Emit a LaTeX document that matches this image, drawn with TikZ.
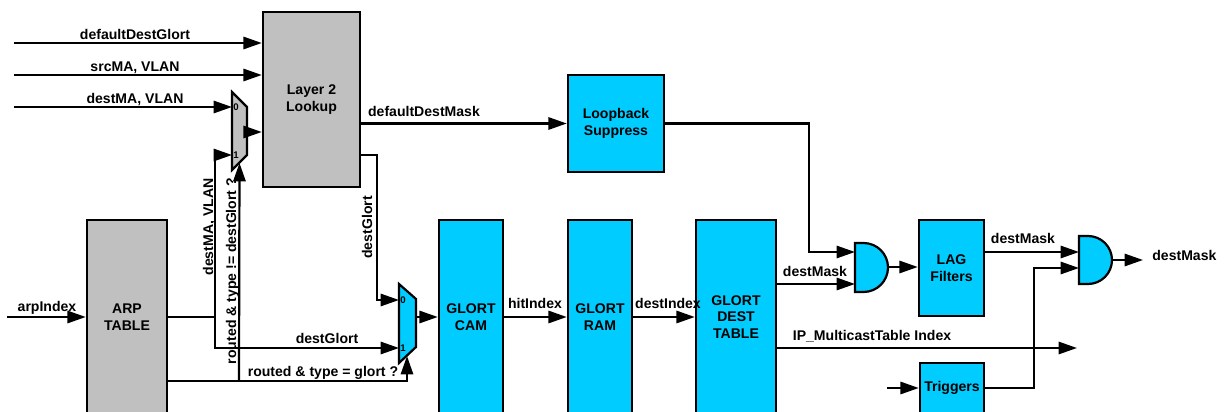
\documentclass[tikz,border=0pt]{standalone}
\usepackage{fontspec}
\setmainfont{Liberation Sans}
\usetikzlibrary{arrows.meta,calc}
\newdimen\pxu \pxu=0.02cm
\definecolor{blkgray}{RGB}{192,192,192}
\definecolor{blkcyan}{RGB}{0,204,255}
\tikzset{
  every picture/.style={x=0.02cm, y=-0.02cm, font=\bfseries\fontsize{8}{9.6}\selectfont,
    >={Triangle[length=10.5pt,width=7pt]}},
  wire/.style={line width=1.25pt},
  sig/.style={wire, ->},
  blk/.style={draw, line width=1.4pt, align=center, inner sep=0pt},
  grayblk/.style={blk, fill=blkgray},
  cyanblk/.style={blk, fill=blkcyan},
  lbl/.style={anchor=base, inner sep=0pt},
  vlbl/.style={lbl, rotate=90},
  port/.style={anchor=west, inner sep=0.6pt, font=\bfseries\fontsize{5.5}{6}\selectfont},
}

\begin{document}
\begin{tikzpicture}
\useasboundingbox (0,0) rectangle (1225,412);
\clip (0,0) rectangle (1225,412);
% blocks
\node[grayblk, minimum width=97\pxu, minimum height=175\pxu] (L2) at (311.5,99.5) {Layer 2\\Lookup};
\node[cyanblk, minimum width=96\pxu, minimum height=97\pxu] (LB) at (616,123.5) {Loopback\\Suppress};
\node[grayblk, minimum width=80\pxu, minimum height=194\pxu] (ARP) at (127,317) {ARP\\TABLE};
\node[cyanblk, minimum width=64\pxu, minimum height=194\pxu] (CAM) at (471,317) {GLORT\\CAM};
\node[cyanblk, minimum width=64\pxu, minimum height=194\pxu] (RAM) at (600,317) {GLORT\\RAM};
\node[cyanblk, minimum width=80\pxu, minimum height=194\pxu] (DT) at (736,317) {GLORT\\DEST\\TABLE};
\node[cyanblk, minimum width=65\pxu, minimum height=96\pxu] (LAG) at (951.5,268) {LAG\\Filters};
\node[cyanblk, minimum width=64\pxu, minimum height=50\pxu] (TR) at (952,388) {Triggers};

% muxes
\draw[wire, fill=blkgray] (232,92) -- (247,107) -- (247,155) -- (232,170) -- cycle;
\coordinate (m1a) at (232,107);
\coordinate (m1b) at (232,155);
\coordinate (m1s) at (239.5,163);
\coordinate (m1o) at (247,132);
\node[port] (p1a) at (m1a) {0};
\node[port] (p1b) at (m1b) {1};
\draw[wire, fill=blkcyan] (399,284) -- (416,299) -- (416,347) -- (399,363) -- cycle;
\coordinate (m2a) at (399,300);
\coordinate (m2b) at (399,348);
\coordinate (m2s) at (407,356);
\coordinate (m2o) at (416,317);
\node[port] (p2a) at (m2a) {0};
\node[port] (p2b) at (m2b) {1};

% and gates
\draw[wire, fill=blkcyan] (855,243) -- (863.5,243) arc[start angle=90, end angle=-90, radius=24.5\pxu] -- (855,292) -- cycle;
\coordinate (a1a) at (855,252);
\coordinate (a1b) at (855,284);
\coordinate (a1o) at (888,267);
\draw[wire, fill=blkcyan] (1079,236) -- (1088,236) arc[start angle=90, end angle=-90, radius=24\pxu] -- (1079,284) -- cycle;
\coordinate (a2a) at (1079,252);
\coordinate (a2b) at (1079,268);
\coordinate (a2o) at (1112,260);

% inputs
\coordinate (iG) at (14,43);
\coordinate (iS) at (14,75);
\coordinate (iD) at (14,107);
\coordinate (iA) at (7,317);
\coordinate (iT) at (887,388);
\draw[sig] (iG) -- (L2.west |- iG);
\draw[sig] (iS) -- (L2.west |- iS);
\draw[sig] (iD) -- (m1a);
\draw[sig] (iA) -- (ARP.west);
\draw[sig] (iT) -- (TR.west);
\node[lbl] (tG) at (135,40) {defaultDestGlort};
\node[lbl] (tS) at (135,72) {srcMA, VLAN};
\node[lbl] (tD) at (135,104) {destMA, VLAN};
\node[lbl] (tA) at (47,311) {arpIndex};

% layer 2 side
\draw[sig] (m1o) -- (L2.west |- m1o);
\draw[sig] (L2.east |- LB.west) -- (LB.west);
\node[lbl] (tDM) at (424,117) {defaultDestMask};
\draw[sig] ($(L2.east)+(0,55.5)$) -- ++(16,0) |- (m2a);
\node[vlbl] (tDG1) at (372,227.5) {destGlort};

% arp outputs
\coordinate (j1) at (215,317);
\coordinate (j2) at (239,381);
\draw[wire] (ARP.east |- j1) -- (j1);
\draw[sig] (j1) |- (m1b);
\draw[sig] (j1) |- (m2b);
\draw[sig] (ARP.east |- j2) -| (m2s);
\draw[sig] (j2) -- (m1s);
\node[vlbl] (tDV) at (213,227) {destMA, VLAN};
\node[vlbl] (tNE) at (236,271) {routed \& type != destGlort ?};
\node[lbl] (tDG2) at (327,343) {destGlort};
\node[lbl] (tEQ) at (323,376) {routed \& type = glort ?};

% glort chain
\draw[sig] (m2o) -- (CAM.west |- m2o);
\draw[sig] (CAM.east) -- (RAM.west);
\draw[sig] (RAM.east) -- (DT.west);
\node[lbl] (tHI) at (535,308) {hitIndex};
\node[lbl] (tDI) at (668,308) {destIndex};

% masks
\coordinate (ipEnd) at (1077,348);
\coordinate (outEnd) at (1143,260);
\draw[sig] (LB.east) -- ++(144,0) |- (a1a);
\draw[sig] (DT.east |- a1b) -- (a1b);
\draw[sig] (a1o) -- (LAG.west |- a1o);
\draw[sig] (LAG.east |- a2a) -- (a2a);
\draw[sig] (TR.east) -- ++(49,0) |- (a2b);
\draw[sig] (a2o) -- (outEnd);
\draw[sig] (DT.east |- ipEnd) -- (ipEnd);
\node[lbl] (tM1) at (815,276) {destMask};
\node[lbl] (tM2) at (1023,243) {destMask};
\node[lbl, anchor=base west] (tM3) at (1152,260) {destMask};
\node[lbl] (tIP) at (872,340) {IP\_MulticastTable Index};
\end{tikzpicture}
\end{document}
